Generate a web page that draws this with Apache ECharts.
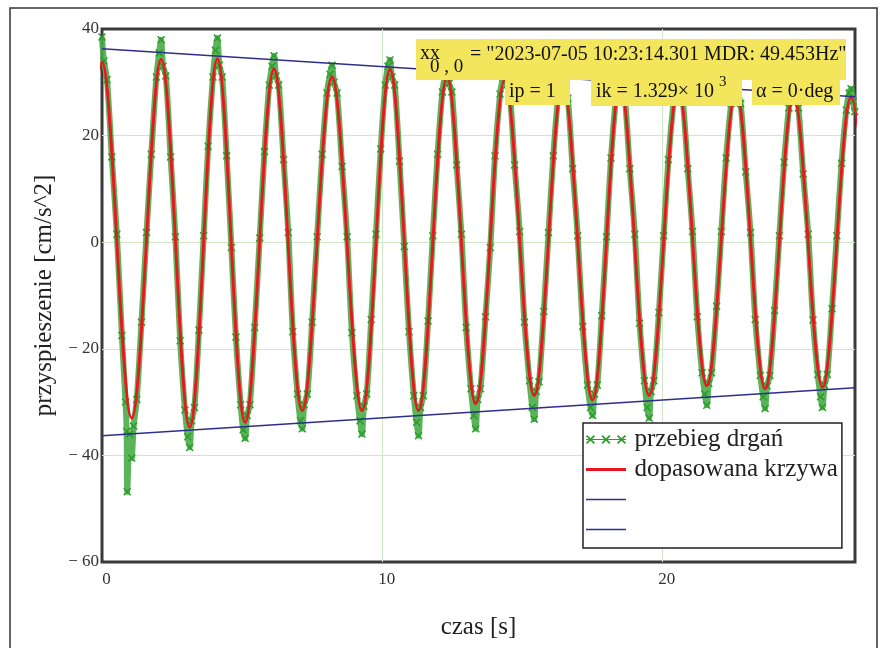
<!DOCTYPE html>
<html><head><meta charset="utf-8">
<script src="https://cdn.jsdelivr.net/npm/echarts@6/dist/echarts.min.js"></script>
<style>html,body{margin:0;padding:0;background:#fff}#c{width:881px;height:648px}</style>
</head><body><div id="c"></div>
<script>
// ---- data ----
// fitted curve (dopasowana krzywa): extrema times [s] and values [cm/s^2]
const fitT = [-1.02, 0.00, 1.06, 2.11, 3.13, 4.12, 5.11, 6.14, 7.15, 8.21, 9.28, 10.28, 11.30, 12.32, 13.34, 14.38, 15.43, 16.45, 17.51, 18.50, 19.53, 20.57, 21.59, 22.63, 23.67, 24.69, 25.72, 26.74, 27.77];
const fitY = [-33.0, 33.8, -33.0, 34.3, -34.7, 34.4, -33.8, 32.5, -31.6, 31.0, -31.6, 32.4, -31.6, 31.0, -30.3, 30.5, -28.8, 29.8, -29.6, 29.5, -28.8, 28.8, -26.9, 28.5, -27.5, 27.6, -27.2, 27.2, -27.0];

// measured samples (przebieg drgań)
const measT = [0.00,0.07,0.18,0.35,0.53,0.71,0.84,0.88,0.90,0.99,1.06,1.13,
1.24,1.41,1.59,1.76,1.94,2.04,2.11,2.18,
2.28,2.45,2.62,2.79,2.96,3.06,3.13,3.20,
3.30,3.46,3.63,3.79,3.96,4.05,4.12,4.19,
4.29,4.45,4.62,4.78,4.95,5.04,5.11,5.18,
5.28,5.45,5.63,5.80,5.97,6.07,6.14,6.21,
6.31,6.48,6.65,6.81,6.98,7.08,7.15,7.22,
7.33,7.50,7.68,7.86,8.03,8.14,8.21,8.28,
8.39,8.57,8.75,8.92,9.10,9.21,9.28,9.35,
9.45,9.61,9.78,9.95,10.11,10.21,10.28,10.35,
10.45,10.62,10.79,10.96,11.13,11.23,11.30,11.37,
11.47,11.64,11.81,11.98,12.15,12.25,12.32,12.39,
12.49,12.66,12.83,13.00,13.17,13.27,13.34,13.41,
13.51,13.69,13.86,14.03,14.21,14.31,14.38,14.45,
14.56,14.73,14.91,15.08,15.26,15.36,15.43,15.50,
15.60,15.77,15.94,16.11,16.28,16.38,16.45,16.52,
16.63,16.80,16.98,17.16,17.33,17.44,17.51,17.58,
17.68,17.84,18.01,18.17,18.34,18.43,18.50,18.57,
18.67,18.84,19.02,19.19,19.36,19.46,19.53,19.60,
19.70,19.88,20.05,20.22,20.40,20.50,20.57,20.64,
20.74,20.91,21.08,21.25,21.42,21.52,21.59,21.66,
21.76,21.94,22.11,22.28,22.46,22.56,22.63,22.70,
22.80,22.98,23.15,23.32,23.50,23.60,23.67,23.74,
23.84,24.01,24.18,24.35,24.52,24.62,24.69,24.76,
24.86,25.03,25.21,25.38,25.55,25.65,25.72,25.79,
25.89,26.06,26.23,26.40,26.57,26.67,26.74,26.81,26.87];
const measY = [38.5,34.0,30.5,16.0,1.5,-17.5,-30.0,-35.5,-46.8,-36.0,-40.5,-34.5,
-29.5,-15.0,1.8,16.5,31.0,35.5,38.0,33.0,
31.2,16.0,1.0,-18.5,-31.5,-36.5,-38.5,-33.5,
-31.0,-16.5,1.2,18.0,31.0,36.0,38.3,33.2,
31.0,16.2,-1.0,-17.8,-30.5,-35.2,-36.8,-32.5,
-30.5,-16.0,0.8,17.0,29.5,33.0,35.0,31.2,
29.5,15.5,1.8,-16.8,-28.5,-33.5,-35.0,-30.5,
-28.5,-15.0,1.0,16.5,28.0,31.5,33.2,30.0,
28.0,14.2,1.0,-17.0,-28.8,-33.5,-36.0,-30.8,
-28.5,-14.5,1.5,17.5,29.5,33.0,34.2,31.0,
29.5,15.2,-0.8,-16.8,-28.8,-33.8,-36.3,-31.0,
-28.8,-14.8,1.2,16.5,28.2,31.5,33.0,29.8,
28.2,14.5,1.5,-16.0,-27.5,-32.5,-35.0,-29.5,
-27.5,-14.0,-1.0,16.2,27.8,31.0,32.5,29.5,
27.8,14.5,2.0,-15.0,-26.0,-31.0,-33.2,-28.0,
-26.2,-13.0,1.8,16.2,27.2,30.5,31.5,29.0,
27.0,13.8,1.2,-15.8,-26.8,-31.0,-32.5,-28.5,
-26.8,-13.8,1.0,15.8,26.8,30.2,31.8,28.8,
26.8,13.8,1.5,-15.2,-26.0,-31.0,-33.0,-28.0,
-26.0,-13.2,1.2,15.5,26.2,29.5,30.8,28.5,
26.2,13.8,2.0,-14.0,-24.5,-28.5,-30.6,-26.5,
-24.5,-12.0,2.0,15.8,26.0,29.0,30.5,28.0,
26.0,13.2,1.8,-14.5,-25.0,-29.0,-31.2,-27.0,
-25.0,-12.8,1.2,15.0,25.2,28.5,29.5,27.5,
25.2,12.8,1.5,-14.6,-24.8,-29.0,-31.0,-26.8,
-24.8,-12.5,1.2,14.8,24.8,28.0,28.8,26.5,24.5];

// envelope lines
const envT = [0, 26.88];
const envUpper = [36.3, 27.3];
const envLower = [-36.3, -27.3];

// axes
const xMin = 0, xMax = 26.88, xStep = 10;
const yMin = -60, yMax = 40, yStep = 20;

// texts
const seriesNames = ['przebieg drgań', 'dopasowana krzywa', '\u200b', '\u200b\u200b'];
const xTitle = 'czas [s]';
const yTitle = 'przyspieszenie [cm/s^2]';
const note1 = '= "2023-07-05 10:23:14.301 MDR: 49.453Hz"';
const noteIp = 'ip = 1';
const noteIk = 'ik = 1.329\u00d7 10';
const noteAlpha = '\u03b1 = 0\u00b7deg';

// ---- chart ----
const pair = (a, b) => a.map((v, i) => [v, b[i]]);
const serif = '"Liberation Serif","Times New Roman",serif';
const xSym = 'path://M1.2,0 L4.5,3.3 L7.8,0 L9,1.2 L5.7,4.5 L9,7.8 L7.8,9 L4.5,5.7 L1.2,9 L0,7.8 L3.3,4.5 L0,1.2 Z';
const xxxIcon = 'path://M0,4.1 L40,4.1 L40,4.9 L0,4.9 Z ' +
  'M1.2,0 L4.5,3.3 L7.8,0 L9,1.2 L5.7,4.5 L9,7.8 L7.8,9 L4.5,5.7 L1.2,9 L0,7.8 L3.3,4.5 L0,1.2 Z ' +
  'M16.7,0 L20,3.3 L23.3,0 L24.5,1.2 L21.2,4.5 L24.5,7.8 L23.3,9 L20,5.7 L16.7,9 L15.5,7.8 L18.8,4.5 L15.5,1.2 Z ' +
  'M32.2,0 L35.5,3.3 L38.8,0 L40,1.2 L36.7,4.5 L40,7.8 L38.8,9 L35.5,5.7 L32.2,9 L31,7.8 L34.3,4.5 L31,1.2 Z';
const thickLine = 'path://M0,0 L0.01,0 L0.01,9 L0,9 Z M0,3 L40,3 L40,6 L0,6 Z';
const thinLine = 'path://M0,0 L0.01,0 L0.01,9 L0,9 Z M0,3.7 L40,3.7 L40,5.3 L0,5.3 Z';
const yellow = '#f4e65c';
const green = '#2c9c2c', band = '#48ad48', red = '#ea1520', blue = '#2e2e8e', gridGreen = '#cfe7c6';

const chart = echarts.init(document.getElementById('c'));
chart.setOption({
  animation: false,
  backgroundColor: '#fff',
  grid: { left: 102, top: 29, right: 26, bottom: 86, show: true, borderColor: '#3a3a3a', borderWidth: 3 },
  xAxis: {
    type: 'value', min: xMin, max: xMax, interval: xStep,
    axisLine: { show: false }, axisTick: { show: false },
    splitLine: { show: true, showMinLine: false, showMaxLine: false, lineStyle: { color: gridGreen, width: 1 } },
    axisLabel: { fontFamily: serif, fontSize: 17, color: '#333', margin: 9, showMaxLabel: false, padding: [0, 0, 0, 9] },
    name: xTitle, nameLocation: 'middle', nameGap: 53,
    nameTextStyle: { fontFamily: serif, fontSize: 25, color: '#222' }
  },
  yAxis: {
    type: 'value', min: yMin, max: yMax, interval: yStep,
    axisLine: { show: false }, axisTick: { show: false },
    splitLine: { show: true, showMinLine: false, showMaxLine: false, lineStyle: { color: gridGreen, width: 1 } },
    axisLabel: { fontFamily: serif, fontSize: 17, color: '#333', margin: 3, padding: [8, 0, 0, 0],
      formatter: v => v < 0 ? '\u2212 ' + (-v) : String(v) },
    name: yTitle, nameLocation: 'middle', nameGap: 41,
    nameTextStyle: { fontFamily: serif, fontSize: 25, color: '#222' }
  },
  legend: {
    orient: 'vertical', left: 583, top: 423, padding: [4, 4, 6, 3], itemGap: 5,
    itemWidth: 41, itemHeight: 9, backgroundColor: '#fff', borderColor: '#222', borderWidth: 1.5,
    textStyle: { fontFamily: serif, fontSize: 25, color: '#222', padding: [0, 0, 0, 3] },
    data: [
      { name: seriesNames[0], icon: xxxIcon },
      { name: seriesNames[1], icon: thickLine },
      { name: seriesNames[2], icon: thinLine },
      { name: seriesNames[3], icon: thinLine }
    ],
    z: 20
  },
  series: [
    { name: seriesNames[0], type: 'line', data: pair(measT, measY), symbol: xSym, symbolSize: 8, showAllSymbol: true,
      smooth: 0.3, itemStyle: { color: green }, lineStyle: { color: band, width: 6, opacity: 0.9 }, z: 2 },
    { name: seriesNames[1], type: 'line', data: pair(fitT, fitY), smooth: 0.36, symbol: 'none',
      itemStyle: { color: red }, lineStyle: { color: red, width: 2.8 }, z: 3 },
    { name: seriesNames[2], type: 'line', data: pair(envT, envUpper), symbol: 'none',
      itemStyle: { color: blue }, lineStyle: { color: blue, width: 1.5 }, z: 4 },
    { name: seriesNames[3], type: 'line', data: pair(envT, envLower), symbol: 'none',
      itemStyle: { color: blue }, lineStyle: { color: blue, width: 1.5 }, z: 4 }
  ],
  graphic: [
    { type: 'rect', z: 100, shape: { x: 10, y: 8, width: 867, height: 700 }, style: { fill: 'none', stroke: '#333', lineWidth: 1.5 } },
    { type: 'rect', z: 100, shape: { x: 416, y: 39, width: 430, height: 41 }, style: { fill: yellow } },
    { type: 'rect', z: 100, shape: { x: 505, y: 79, width: 65, height: 26 }, style: { fill: yellow } },
    { type: 'rect', z: 100, shape: { x: 591, y: 79, width: 151, height: 27 }, style: { fill: yellow } },
    { type: 'rect', z: 100, shape: { x: 752, y: 79, width: 88, height: 26 }, style: { fill: yellow } },
    { type: 'text', z: 101, style: { text: 'xx', x: 420, y: 54, verticalAlign: 'middle', font: '20px ' + serif, fill: '#111' } },
    { type: 'text', z: 101, style: { text: '0 , 0', x: 430, y: 67, verticalAlign: 'middle', font: '19px ' + serif, fill: '#111' } },
    { type: 'text', z: 101, style: { text: note1, x: 470, y: 55, verticalAlign: 'middle', font: '20px ' + serif, fill: '#111' } },
    { type: 'text', z: 101, style: { text: noteIp, x: 509, y: 92, verticalAlign: 'middle', font: '20px ' + serif, fill: '#111' } },
    { type: 'text', z: 101, style: { text: noteIk, x: 596, y: 92, verticalAlign: 'middle', font: '20px ' + serif, fill: '#111' } },
    { type: 'text', z: 101, style: { text: '3', x: 719, y: 82, verticalAlign: 'middle', font: '15px ' + serif, fill: '#111' } },
    { type: 'text', z: 101, style: { text: noteAlpha, x: 756, y: 92, verticalAlign: 'middle', font: '20px ' + serif, fill: '#111' } }
  ]
});
</script></body></html>
